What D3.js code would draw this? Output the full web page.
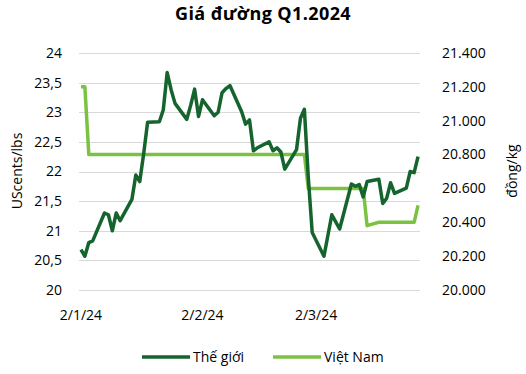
<!DOCTYPE html>
<html>
<head>
<meta charset="utf-8">
<script src="https://cdn.jsdelivr.net/npm/d3@7"></script>
<style>
  body { margin: 0; background: #fff; }
  svg { font-family: "Open Sans", "Noto Sans", sans-serif; fill: #000; }
  .grid { stroke: #d9d9d9; stroke-width: 1; }
  .tick-label { font-size: 14px; }
  .axis-title { font-size: 14px; }
  .title { font-size: 18px; font-weight: bold; letter-spacing: 0.4px; }
  .series { fill: none; stroke-width: 3.5; stroke-linejoin: round; }
</style>
</head>
<body>
<svg id="chart" width="526" height="374"></svg>
<script>
(function() {
  // trading days, d/m/yyyy
  var dates = ['2/1/2024', '3/1/2024', '4/1/2024', '5/1/2024', '8/1/2024', '9/1/2024', '10/1/2024', '11/1/2024', '12/1/2024',
    '15/1/2024', '16/1/2024', '17/1/2024', '18/1/2024', '19/1/2024', '22/1/2024', '23/1/2024', '24/1/2024', '25/1/2024', '26/1/2024',
    '29/1/2024', '30/1/2024', '31/1/2024', '1/2/2024', '2/2/2024', '5/2/2024', '6/2/2024', '7/2/2024', '8/2/2024', '9/2/2024',
    '12/2/2024', '13/2/2024', '14/2/2024', '15/2/2024', '16/2/2024', '19/2/2024', '20/2/2024', '21/2/2024', '22/2/2024', '23/2/2024',
    '26/2/2024', '27/2/2024', '28/2/2024', '29/2/2024', '1/3/2024', '4/3/2024', '5/3/2024', '6/3/2024', '7/3/2024', '8/3/2024',
    '11/3/2024', '12/3/2024', '13/3/2024', '14/3/2024', '15/3/2024', '18/3/2024', '19/3/2024', '20/3/2024', '21/3/2024', '22/3/2024',
    '25/3/2024', '26/3/2024', '27/3/2024', '28/3/2024'];

  // Thế giới, UScents/lbs
  var world = [20.68, 20.57, 20.80, 20.83, 21.30, 21.27, 21.00, 21.30, 21.17,
    21.53, 21.94, 21.83, 22.30, 22.83, 22.84, 23.04, 23.67, 23.38, 23.15,
    22.88, 23.12, 23.39, 22.93, 23.21, 22.94, 23.00, 23.33, 23.40, 23.45,
    23.01, 22.80, 22.87, 22.35, 22.40, 22.50, 22.35, 22.40, 22.33, 22.04,
    22.37, 22.90, 23.05, 21.90, 20.97, 20.57, 20.92, 21.27, 21.15, 21.03,
    21.79, 21.75, 21.78, 21.57, 21.83, 21.87, 21.46, 21.55, 21.81, 21.63,
    21.72, 22.00, 21.98, 22.25];

  // Việt Nam, đồng/kg
  var vietnam = [21200, 21200, 20800, 20800, 20800, 20800, 20800, 20800, 20800,
    20800, 20800, 20800, 20800, 20800, 20800, 20800, 20800, 20800, 20800,
    20800, 20800, 20800, 20800, 20800, 20800, 20800, 20800, 20800, 20800,
    20800, 20800, 20800, 20800, 20800, 20800, 20800, 20800, 20800, 20800,
    20800, 20800, 20800, 20600, 20600, 20600, 20600, 20600, 20600, 20600,
    20600, 20600, 20600, 20600, 20380, 20400, 20400, 20400, 20400, 20400,
    20400, 20400, 20400, 20500];

  var leftTicks = [20, 20.5, 21, 21.5, 22, 22.5, 23, 23.5, 24];
  var rightTicks = [20000, 20200, 20400, 20600, 20800, 21000, 21200, 21400];
  var xTicks = ['2/1/2024', '2/2/2024', '2/3/2024'];
  var seriesNames = ['Thế giới', 'Việt Nam'];
  var colors = ['#15642e', '#7cc242'];

  var parse = d3.timeParse('%d/%m/%Y');
  var days = dates.map(parse);
  var svg = d3.select('#chart');
  var left = 79, right = 420, top = 53, bottom = 290;

  var x = d3.scaleTime()
    .domain([d3.timeHour.offset(days[0], -12), d3.timeHour.offset(days[days.length - 1], 12)])
    .range([left, right]);
  var yLeft = d3.scaleLinear().domain([20, 24]).range([bottom, top]);
  var yRight = d3.scaleLinear().domain([20000, 21400]).range([bottom, top]);

  svg.append('text').attr('class', 'title').attr('x', 263).attr('y', 20)
    .attr('text-anchor', 'middle').text('Giá đường Q1.2024');

  // gridlines on the left axis ticks
  svg.selectAll('.grid').data(leftTicks).enter().append('line')
    .attr('class', 'grid')
    .attr('x1', left).attr('x2', right)
    .attr('y1', function(d) { return Math.round(yLeft(d)) + 0.5; })
    .attr('y2', function(d) { return Math.round(yLeft(d)) + 0.5; });

  var fmtLeft = function(d) { return String(d).replace('.', ','); };
  var fmtRight = d3.formatLocale({ decimal: ',', thousands: '.', grouping: [3], currency: ['', ''] }).format(',.0f');

  svg.selectAll('.yl').data(leftTicks).enter().append('text')
    .attr('class', 'tick-label').attr('x', 62).attr('y', function(d) { return yLeft(d); })
    .attr('dy', '0.35em').attr('text-anchor', 'end').text(fmtLeft);

  svg.selectAll('.yr').data(rightTicks).enter().append('text')
    .attr('class', 'tick-label').attr('x', 442).attr('y', function(d) { return yRight(d); })
    .attr('dy', '0.35em').text(fmtRight);

  svg.selectAll('.xl').data(xTicks.map(parse)).enter().append('text')
    .attr('class', 'tick-label').attr('x', function(d) { return x(d); }).attr('y', 320)
    .attr('text-anchor', 'middle').text(d3.timeFormat('%-d/%-m/%y'));

  svg.append('text').attr('class', 'axis-title')
    .attr('transform', 'translate(22,171) rotate(-90)')
    .attr('text-anchor', 'middle').text('UScents/lbs');
  svg.append('text').attr('class', 'axis-title')
    .attr('transform', 'translate(517,171) rotate(-90)')
    .attr('text-anchor', 'middle').text('đồng/kg');

  var lineLeft = d3.line().x(function(d, i) { return x(days[i]); }).y(function(d) { return yLeft(d); });
  var lineRight = d3.line().x(function(d, i) { return x(days[i]); }).y(function(d) { return yRight(d); });

  svg.append('path').attr('class', 'series').attr('stroke', colors[1]).attr('d', lineRight(vietnam));
  svg.append('path').attr('class', 'series').attr('stroke', colors[0]).attr('d', lineLeft(world));

  // legend
  var legend = svg.selectAll('.legend').data(seriesNames).enter().append('g')
    .attr('transform', function(d, i) { return 'translate(' + (142 + i * 131) + ',357)'; });
  legend.append('line').attr('x1', 0).attr('x2', 48)
    .attr('stroke', function(d, i) { return colors[i]; }).attr('stroke-width', 3.5);
  legend.append('text').attr('class', 'tick-label').attr('x', 51).attr('dy', '0.35em').text(String);
})();
</script>
</body>
</html>
